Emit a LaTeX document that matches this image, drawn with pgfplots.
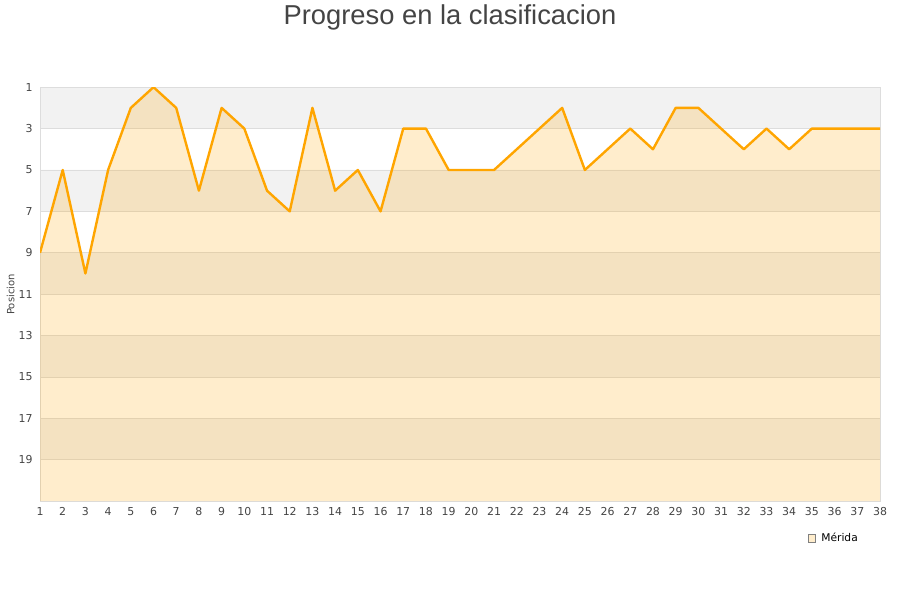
\documentclass[border=0pt]{standalone}
\usepackage{fontspec}
\setmainfont{DejaVu Sans}
\newfontfamily\titlefont{Liberation Sans}
\usepackage{pgfplots}
\pgfplotsset{compat=1.18}
\usepgfplotslibrary{fillbetween}
\definecolor{bandgray}{HTML}{F2F2F2}
\definecolor{linecol}{HTML}{FFA500}
\definecolor{txt}{HTML}{444444}
\definecolor{gridc}{HTML}{DDDDDD}
\pgfplotsset{band/.style={fill=bandgray, draw=none, forget plot, on layer=axis background}}
\begin{document}
\begin{tikzpicture}
\path (0pt,0pt) rectangle (675pt,450pt);
\node[text=txt, font=\titlefont\fontsize{20.5}{24}\selectfont] at (337.5pt,438pt) {Progreso en la clasificacion};
\node[text=txt, font=\fontsize{7.5}{9}\selectfont, rotate=90] at (8pt,230pt) {Posicion};
\begin{axis}[
  set layers,
  at={(30pt,75pt)}, anchor=south west,
  scale only axis, width=630pt, height=310.5pt,
  xmin=1, xmax=38, ymin=1, ymax=21,
  y dir=reverse,
  xtick={1,...,38}, ytick={1,3,...,19},
  ymajorgrids, grid style={gridc, line width=0.6pt},
  axis line style={gridc}, major tick length=0pt,
  tick label style={text=txt, font=\fontsize{8.2}{10}\selectfont},
  yticklabel style={xshift=-2pt},
  xticklabel style={yshift=-1pt},
  /pgf/number format/assume math mode=true,
  legend style={draw=none, fill=none, font=\fontsize{8}{10}\selectfont,
    at={(axis description cs:0.985,-0.09)}, anchor=east,
    nodes={inner xsep=4pt}},
]
\addplot[band] coordinates {(1,1) (38,1) (38,3) (1,3) (1,1)};
\addplot[band] coordinates {(1,5) (38,5) (38,7) (1,7) (1,5)};
\addplot[band] coordinates {(1,9) (38,9) (38,11) (1,11) (1,9)};
\addplot[band] coordinates {(1,13) (38,13) (38,15) (1,15) (1,13)};
\addplot[band] coordinates {(1,17) (38,17) (38,19) (1,19) (1,17)};
\addplot[name path=pos, draw=none, forget plot] coordinates {
(1,9) (2,5) (3,10) (4,5) (5,2) (6,1) (7,2) (8,6) (9,2) (10,3)
(11,6) (12,7) (13,2) (14,6) (15,5) (16,7) (17,3) (18,3) (19,5) (20,5)
(21,5) (22,4) (23,3) (24,2) (25,5) (26,4) (27,3) (28,4) (29,2) (30,2)
(31,3) (32,4) (33,3) (34,4) (35,3) (36,3) (37,3) (38,3)
};
\addplot[name path=base, draw=none, forget plot] coordinates {(1,21) (38,21)};
\addplot[fill=linecol, fill opacity=0.2, draw=none,
  legend image code/.code={\draw[draw=black!50, fill=linecol!20, fill opacity=1, line width=0.5pt] (0pt,-2.8pt) rectangle (5.6pt,2.8pt);}]
  fill between[of=pos and base];
\addlegendentry{Mérida}
\addplot[linecol, line width=1.8pt, line join=round, forget plot] coordinates {
(1,9) (2,5) (3,10) (4,5) (5,2) (6,1) (7,2) (8,6) (9,2) (10,3)
(11,6) (12,7) (13,2) (14,6) (15,5) (16,7) (17,3) (18,3) (19,5) (20,5)
(21,5) (22,4) (23,3) (24,2) (25,5) (26,4) (27,3) (28,4) (29,2) (30,2)
(31,3) (32,4) (33,3) (34,4) (35,3) (36,3) (37,3) (38,3)
};
\end{axis}
\end{tikzpicture}
\end{document}
